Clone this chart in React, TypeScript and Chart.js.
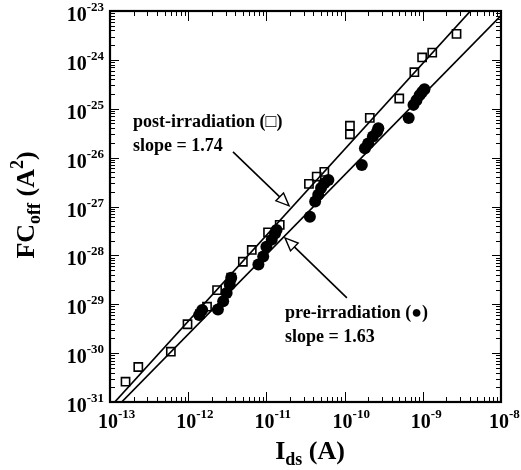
import React, { useEffect, useRef } from 'react';
import { Chart, registerables } from 'chart.js';

Chart.register(...registerables);

// Axis ranges (log scales)
const xMin = 1e-13;
const xMax = 1e-8;
const yMin = 1e-31;
const yMax = 1e-23;
const xTickExponents = [-13, -12, -11, -10, -9, -8];
const yTickExponents = [-31, -30, -29, -28, -27, -26, -25, -24, -23];

// post-irradiation (open squares)
const postX = [1.58e-13, 2.3e-13, 6.0e-13, 9.8e-13, 1.41e-12, 1.74e-12, 2.34e-12, 3.55e-12, 5.0e-12, 6.5e-12, 1.05e-11, 1.48e-11, 3.5e-11, 4.4e-11, 5.5e-11, 1.17e-10, 1.17e-10, 2.1e-10, 5.0e-10, 7.8e-10, 9.8e-10, 1.32e-9, 2.7e-9];
const postY = [2.6e-31, 5.2e-31, 1.07e-30, 3.9e-30, 6.3e-30, 8.9e-30, 1.95e-29, 3.5e-29, 7.4e-29, 1.29e-28, 2.95e-28, 4.2e-28, 2.9e-27, 4.1e-27, 5.1e-27, 4.5e-26, 3.0e-26, 6.5e-26, 1.62e-25, 5.6e-25, 1.12e-24, 1.41e-24, 3.4e-24];

// pre-irradiation (filled circles)
const preX = [1.38e-12, 1.51e-12, 2.4e-12, 2.8e-12, 3.1e-12, 3.4e-12, 3.55e-12, 7.9e-12, 9.1e-12, 1.0e-11, 1.17e-11, 1.29e-11, 1.35e-11, 3.6e-11, 4.2e-11, 4.6e-11, 5.0e-11, 5.5e-11, 6.2e-11, 1.66e-10, 1.82e-10, 2.0e-10, 2.3e-10, 2.6e-10, 2.7e-10, 6.6e-10, 7.6e-10, 8.3e-10, 9.1e-10, 9.8e-10, 1.05e-9];
const preY = [6.0e-30, 7.6e-30, 7.8e-30, 1.15e-29, 1.7e-29, 2.5e-29, 3.5e-29, 6.5e-29, 9.5e-29, 1.5e-28, 2.1e-28, 2.8e-28, 3.3e-28, 6.2e-28, 1.26e-27, 1.74e-27, 2.4e-27, 3.0e-27, 3.5e-27, 7.1e-27, 1.55e-26, 1.95e-26, 2.7e-26, 3.4e-26, 4.0e-26, 6.5e-26, 1.2e-25, 1.5e-25, 1.9e-25, 2.2e-25, 2.5e-25];

// fitted lines (end points)
const postFitX = [1.15e-13, 4.07e-9];
const postFitY = [1e-31, 1e-23];
const preFitX = [1.41e-13, 1e-8];
const preFitY = [1e-31, 8.1e-24];

// annotations
const postLabel = ['post-irradiation (\u25A1)', 'slope = 1.74'];
const preLabel = ['pre-irradiation (\u25CF)', 'slope = 1.63'];
const postTextAt = { x: 1.97e-13, y: 5.37e-26 };
const preTextAt = { x: 1.73e-11, y: 6.67e-30 };
const postArrow = { x1: 3.74e-12, y1: 1.31e-26, x2: 1.95e-11, y2: 1.03e-27 };
const preArrow = { x1: 1.07e-10, y1: 1.35e-29, x2: 1.73e-11, y2: 2.28e-28 };

const FONT = '"Liberation Serif", "Times New Roman", serif';

type Run = { t: string; size: number; dy: number };

function runsWidth(ctx: CanvasRenderingContext2D, runs: Run[]) {
  let w = 0;
  for (const r of runs) {
    ctx.font = `bold ${r.size}px ${FONT}`;
    w += ctx.measureText(r.t).width;
  }
  return w;
}

function drawRuns(ctx: CanvasRenderingContext2D, runs: Run[], x: number, y: number) {
  let cx = x;
  ctx.textBaseline = 'alphabetic';
  ctx.textAlign = 'left';
  for (const r of runs) {
    ctx.font = `bold ${r.size}px ${FONT}`;
    ctx.fillText(r.t, cx, y + r.dy);
    cx += ctx.measureText(r.t).width;
  }
}

function drawArrow(ctx: CanvasRenderingContext2D, x1: number, y1: number, x2: number, y2: number) {
  const ang = Math.atan2(y2 - y1, x2 - x1);
  const len = 13;
  const hw = 5.5;
  const bx = x2 - len * Math.cos(ang);
  const by = y2 - len * Math.sin(ang);
  ctx.beginPath();
  ctx.moveTo(x1, y1);
  ctx.lineTo(bx, by);
  ctx.lineWidth = 1.6;
  ctx.strokeStyle = '#000';
  ctx.stroke();
  ctx.beginPath();
  ctx.moveTo(x2, y2);
  ctx.lineTo(bx + hw * Math.sin(ang), by - hw * Math.cos(ang));
  ctx.lineTo(bx - hw * Math.sin(ang), by + hw * Math.cos(ang));
  ctx.closePath();
  ctx.fillStyle = '#fff';
  ctx.fill();
  ctx.lineWidth = 1.4;
  ctx.stroke();
}

const framePlugin = {
  id: 'frame',
  afterDraw(chart: any) {
    const { ctx, chartArea: a, scales } = chart;
    const xs = scales.x;
    const ys = scales.y;
    ctx.save();
    ctx.fillStyle = '#000';
    ctx.strokeStyle = '#000';

    // ticks
    ctx.lineWidth = 1;
    for (let e = -13; e <= -8; e++) {
      for (let m = 1; m < 10; m++) {
        if (e === -8 && m > 1) break;
        const px = Math.round(xs.getPixelForValue(m * Math.pow(10, e))) + 0.5;
        const len = m === 1 ? 10 : 5;
        ctx.beginPath();
        ctx.moveTo(px, a.bottom);
        ctx.lineTo(px, a.bottom - len);
        ctx.moveTo(px, a.top);
        ctx.lineTo(px, a.top + len);
        ctx.stroke();
      }
    }
    for (let e = -31; e <= -23; e++) {
      for (let m = 1; m < 10; m++) {
        if (e === -23 && m > 1) break;
        const py = Math.round(ys.getPixelForValue(m * Math.pow(10, e))) + 0.5;
        const len = m === 1 ? 9 : 5;
        ctx.beginPath();
        ctx.moveTo(a.left, py);
        ctx.lineTo(a.left + len, py);
        ctx.moveTo(a.right, py);
        ctx.lineTo(a.right - len, py);
        ctx.stroke();
      }
    }

    // frame
    ctx.lineWidth = 2.2;
    ctx.strokeRect(a.left, a.top, a.right - a.left, a.bottom - a.top);

    // x tick labels
    for (const e of xTickExponents) {
      const px = xs.getPixelForValue(Math.pow(10, e));
      ctx.font = `bold 20px ${FONT}`;
      const w10 = ctx.measureText('10').width;
      drawRuns(ctx, [
        { t: '10', size: 20, dy: 0 },
        { t: String(e), size: 13, dy: -10 },
      ], px - 2 - w10 / 2, a.bottom + 26);
    }
    // y tick labels
    for (const e of yTickExponents) {
      const py = ys.getPixelForValue(Math.pow(10, e));
      const runs = [
        { t: '10', size: 20, dy: 0 },
        { t: String(e), size: 13, dy: -10 },
      ];
      const w = runsWidth(ctx, runs);
      drawRuns(ctx, runs, 104 - w, py + 10);
    }

    // x title
    const xt: Run[] = [
      { t: 'I', size: 26, dy: 0 },
      { t: 'ds', size: 18, dy: 6 },
      { t: ' (A)', size: 26, dy: 0 },
    ];
    const xtw = runsWidth(ctx, xt);
    drawRuns(ctx, xt, 310 - xtw / 2, 459);

    // y title
    const yt: Run[] = [
      { t: 'FC', size: 26, dy: 0 },
      { t: 'off', size: 18, dy: 6 },
      { t: ' (A', size: 26, dy: 0 },
      { t: '2', size: 18, dy: -11 },
      { t: ')', size: 26, dy: 0 },
    ];
    const ytw = runsWidth(ctx, yt);
    ctx.save();
    ctx.translate(34, 205);
    ctx.rotate(-Math.PI / 2);
    drawRuns(ctx, yt, -ytw / 2, 0);
    ctx.restore();

    // annotations
    const lineGap = 24;
    const ptx = xs.getPixelForValue(postTextAt.x);
    const pty = ys.getPixelForValue(postTextAt.y);
    ctx.font = `bold 18px ${FONT}`;
    ctx.textBaseline = 'middle';
    ctx.textAlign = 'left';
    ctx.fillText(postLabel[0], ptx, pty);
    ctx.fillText(postLabel[1], ptx, pty + lineGap);
    const prx = xs.getPixelForValue(preTextAt.x);
    const pry = ys.getPixelForValue(preTextAt.y);
    ctx.fillText(preLabel[0], prx, pry);
    ctx.fillText(preLabel[1], prx, pry + lineGap);

    drawArrow(ctx,
      xs.getPixelForValue(postArrow.x1), ys.getPixelForValue(postArrow.y1),
      xs.getPixelForValue(postArrow.x2), ys.getPixelForValue(postArrow.y2));
    drawArrow(ctx,
      xs.getPixelForValue(preArrow.x1), ys.getPixelForValue(preArrow.y1),
      xs.getPixelForValue(preArrow.x2), ys.getPixelForValue(preArrow.y2));

    ctx.restore();
  },
};

export default function App() {
  const ref = useRef<HTMLCanvasElement | null>(null);
  useEffect(() => {
    if (!ref.current) return;
    const chart = new Chart(ref.current, {
      type: 'scatter',
      data: {
        datasets: [
          {
            label: 'post fit',
            data: postFitX.map((x, i) => ({ x, y: postFitY[i] })),
            showLine: true,
            borderColor: '#000',
            borderWidth: 1.7,
            pointRadius: 0,
            fill: false,
          },
          {
            label: 'pre fit',
            data: preFitX.map((x, i) => ({ x, y: preFitY[i] })),
            showLine: true,
            borderColor: '#000',
            borderWidth: 1.7,
            pointRadius: 0,
            fill: false,
          },
          {
            label: 'post-irradiation',
            data: postX.map((x, i) => ({ x, y: postY[i] })),
            pointStyle: 'rect',
            pointRadius: 5.8,
            pointBorderWidth: 1.6,
            pointBorderColor: '#000',
            pointBackgroundColor: 'rgba(255,255,255,0)',
            showLine: false,
          },
          {
            label: 'pre-irradiation',
            data: preX.map((x, i) => ({ x, y: preY[i] })),
            pointStyle: 'circle',
            pointRadius: 6,
            pointBorderWidth: 0,
            pointBackgroundColor: '#000',
            showLine: false,
          },
        ],
      },
      options: {
        animation: false,
        responsive: true,
        maintainAspectRatio: false,
        layout: { padding: { left: 110, top: 11, right: 20, bottom: 68 } },
        plugins: { legend: { display: false }, tooltip: { enabled: false } },
        scales: {
          x: { type: 'logarithmic', min: xMin, max: xMax, display: false },
          y: { type: 'logarithmic', min: yMin, max: yMax, display: false },
        },
      },
      plugins: [framePlugin],
    });
    return () => chart.destroy();
  }, []);
  return (
    <div style={{ position: 'fixed', left: 0, top: 0, width: 521, height: 470, background: '#fff' }}>
      <canvas ref={ref} />
    </div>
  );
}
